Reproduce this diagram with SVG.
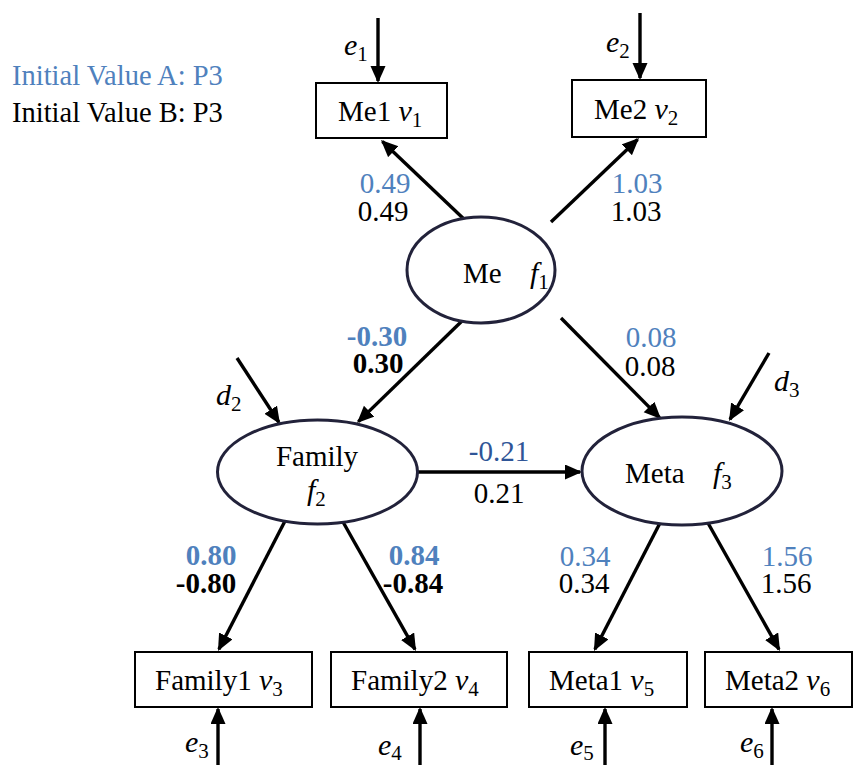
<svg xmlns="http://www.w3.org/2000/svg" width="854" height="765" viewBox="0 0 854 765">
  <style>
    .t { font-family: "Liberation Serif", "Times New Roman", serif; font-size: 29px; fill: #000; }
    .m { font-family: "Liberation Serif", "Times New Roman", serif; font-size: 30px; font-style: italic; fill: #000; }
    .sub { font-size: 21px; font-style: normal; }
    .leg { font-size: 28.5px; }
    .blue { fill: #4f81bd; }
    .dblue { fill: #2f5597; }
    .b { font-weight: bold; }
    .box { fill: #fff; stroke: #000; stroke-width: 2; }
    .lat { fill: #fff; stroke: #22223a; stroke-width: 3; }
    .arr { stroke: #000; stroke-width: 3.4; fill: none; marker-end: url(#head); }
  </style>
  <defs>
    <marker id="head" markerUnits="userSpaceOnUse" markerWidth="18" markerHeight="16" refX="15" refY="7.5" orient="auto">
      <path d="M0,0 L17,7.5 L0,15 z" fill="#000"/>
    </marker>
  </defs>

  <rect width="854" height="765" fill="#fff"/>

  <!-- legend -->
  <text class="t leg blue" x="12" y="85">Initial Value A: P3</text>
  <text class="t leg" x="12" y="122">Initial Value B: P3</text>

  <!-- paths -->
  <g id="connectors">
    <line class="arr" x1="378" y1="18" x2="378" y2="81"/>
    <line class="arr" x1="640" y1="13" x2="640" y2="78"/>
    <line class="arr" x1="466" y1="221" x2="382.4" y2="141.4"/>
    <line class="arr" x1="551" y1="222" x2="637.6" y2="139.4"/>
    <line class="arr" x1="463" y1="320" x2="358.4" y2="421.6"/>
    <line class="arr" x1="561" y1="318" x2="659.6" y2="417.6"/>
    <line class="arr" x1="237" y1="358" x2="278.9" y2="422.3"/>
    <line class="arr" x1="769" y1="353" x2="730" y2="419.3"/>
    <line class="arr" x1="418" y1="472" x2="580" y2="472"/>
    <line class="arr" x1="285" y1="521" x2="218.9" y2="649.2"/>
    <line class="arr" x1="343" y1="522" x2="415" y2="649.3"/>
    <line class="arr" x1="660" y1="523" x2="594.9" y2="649.2"/>
    <line class="arr" x1="708" y1="523" x2="779" y2="649.3"/>
    <line class="arr" x1="218" y1="765" x2="218" y2="709"/>
    <line class="arr" x1="420" y1="765" x2="420" y2="709"/>
    <line class="arr" x1="605" y1="765" x2="605" y2="709"/>
    <line class="arr" x1="772" y1="765" x2="772" y2="709"/>
  </g>

  <!-- error / disturbance labels -->
  <g id="residuals">
    <text class="m" x="344" y="55">e<tspan class="sub" dy="6">1</tspan></text>
    <text class="m" x="606" y="52">e<tspan class="sub" dy="6">2</tspan></text>
    <text class="m" x="216" y="405">d<tspan class="sub" dy="6">2</tspan></text>
    <text class="m" x="774" y="391">d<tspan class="sub" dy="6">3</tspan></text>
    <text class="m" x="185" y="752">e<tspan class="sub" dy="6">3</tspan></text>
    <text class="m" x="378" y="755">e<tspan class="sub" dy="5">4</tspan></text>
    <text class="m" x="570" y="755">e<tspan class="sub" dy="5">5</tspan></text>
    <text class="m" x="740" y="752">e<tspan class="sub" dy="6">6</tspan></text>
  </g>

  <!-- coefficients -->
  <g id="estimates" text-anchor="middle">
    <text class="t blue" x="385" y="193">0.49</text>
    <text class="t" x="383" y="221">0.49</text>
    <text class="t blue" x="637" y="193">1.03</text>
    <text class="t" x="636" y="221">1.03</text>
    <text class="t blue b" x="377" y="346">-0.30</text>
    <text class="t b" x="378" y="373">0.30</text>
    <text class="t blue" x="651" y="347">0.08</text>
    <text class="t" x="650" y="376">0.08</text>
    <text class="t dblue" x="499" y="461">-0.21</text>
    <text class="t" x="499" y="503">0.21</text>
    <text class="t blue b" x="211" y="565">0.80</text>
    <text class="t b" x="206" y="593">-0.80</text>
    <text class="t blue b" x="414" y="565">0.84</text>
    <text class="t b" x="413" y="593">-0.84</text>
    <text class="t blue" x="585" y="566">0.34</text>
    <text class="t" x="584" y="593">0.34</text>
    <text class="t blue" x="787" y="566">1.56</text>
    <text class="t" x="786" y="593">1.56</text>
  </g>

  <!-- observed variables -->
  <g id="me1">
    <rect class="box" x="316" y="83" width="131" height="55"/>
    <text class="t" x="338" y="121">Me1 <tspan class="m">v</tspan><tspan class="sub" dy="6">1</tspan></text>
  </g>
  <g id="me2">
    <rect class="box" x="572" y="80" width="134" height="57"/>
    <text class="t" x="594" y="119">Me2 <tspan class="m">v</tspan><tspan class="sub" dy="6">2</tspan></text>
  </g>
  <g id="family1">
    <rect class="box" x="135" y="652" width="177" height="55"/>
    <text class="t" x="155" y="690">Family1 <tspan class="m">v</tspan><tspan class="sub" dy="6">3</tspan></text>
  </g>
  <g id="family2">
    <rect class="box" x="331" y="652" width="176" height="55"/>
    <text class="t" x="351" y="690">Family2 <tspan class="m">v</tspan><tspan class="sub" dy="6">4</tspan></text>
  </g>
  <g id="meta1">
    <rect class="box" x="529" y="652" width="158" height="55"/>
    <text class="t" x="549" y="690">Meta1 <tspan class="m">v</tspan><tspan class="sub" dy="6">5</tspan></text>
  </g>
  <g id="meta2">
    <rect class="box" x="705" y="652" width="147" height="55"/>
    <text class="t" x="725" y="690">Meta2 <tspan class="m">v</tspan><tspan class="sub" dy="6">6</tspan></text>
  </g>

  <!-- latent factors -->
  <g id="me">
    <ellipse class="lat" cx="481" cy="270" rx="74" ry="53"/>
    <text class="t" x="463" y="283">Me</text>
    <text class="m" x="530" y="283">f<tspan class="sub" dy="6">1</tspan></text>
  </g>
  <g id="family">
    <ellipse class="lat" cx="317.5" cy="472" rx="100" ry="52"/>
    <text class="t" x="317" y="466" text-anchor="middle">Family</text>
    <text class="m" x="307" y="500">f<tspan class="sub" dy="6">2</tspan></text>
  </g>
  <g id="meta">
    <ellipse class="lat" cx="682" cy="471" rx="100" ry="54"/>
    <text class="t" x="625" y="483">Meta</text>
    <text class="m" x="713" y="483">f<tspan class="sub" dy="6">3</tspan></text>
  </g>
</svg>
